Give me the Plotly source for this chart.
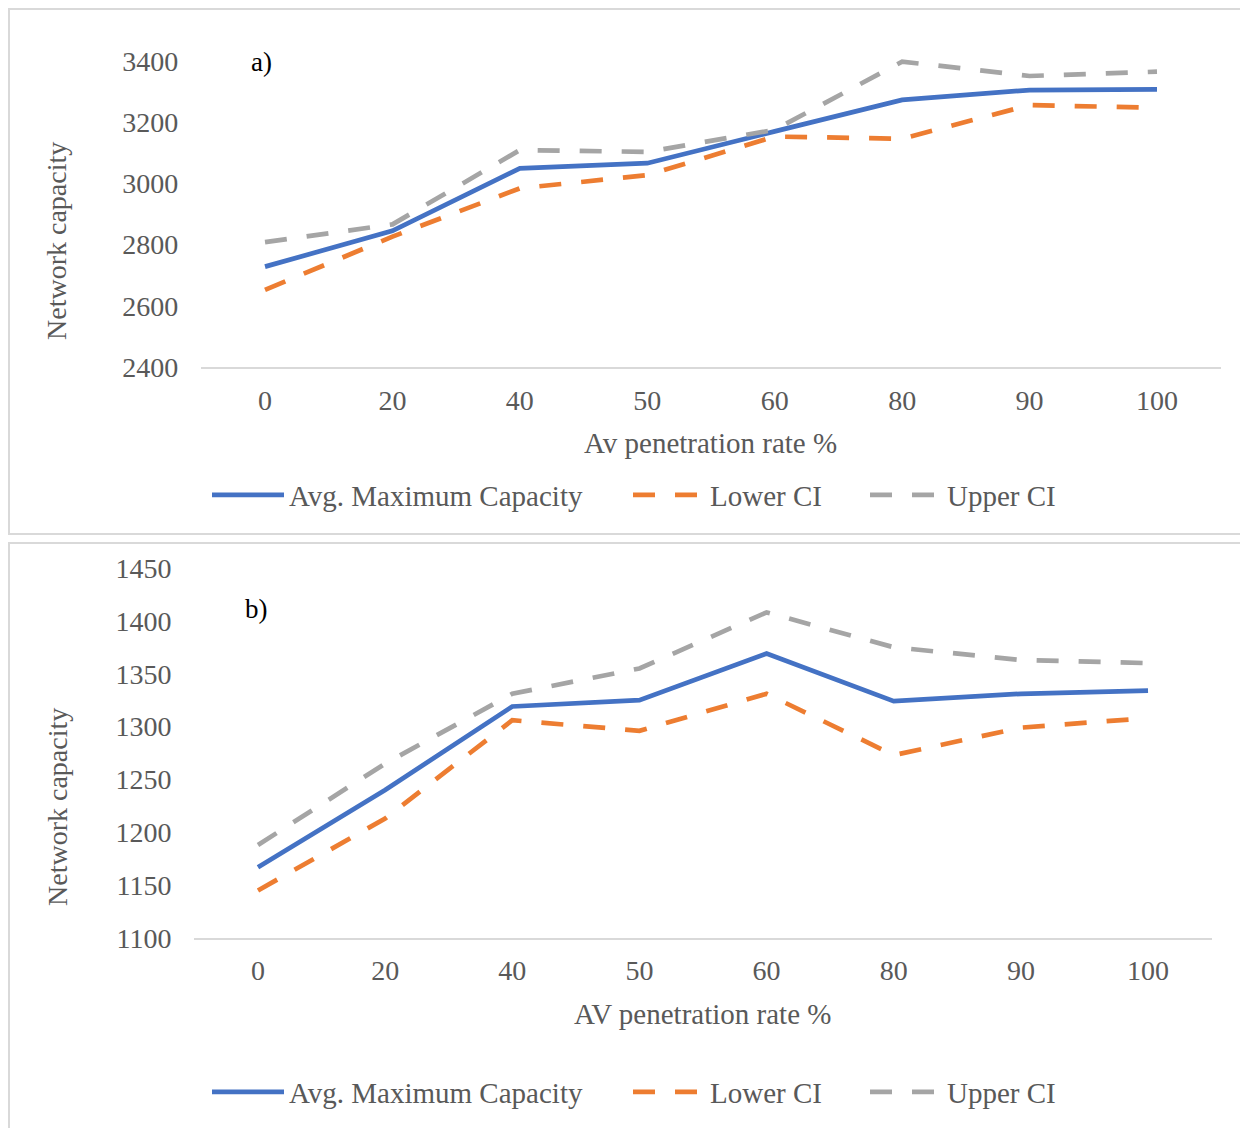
import plotly.graph_objects as go

OFF = 8  # page body margin
W, H = 1248 - OFF, 1128 - OFF

categories = ["0", "20", "40", "50", "60", "80", "90", "100"]

a_avg = [2728, 2845, 3049, 3066, 3170, 3273, 3305, 3307]
a_lower = [2652, 2826, 2984, 3027, 3153, 3146, 3256, 3247]
a_upper = [2808, 2866, 3109, 3103, 3175, 3398, 3351, 3365]

b_avg = [1167, 1240, 1319, 1325, 1369, 1324, 1331, 1334]
b_lower = [1145, 1213, 1306, 1296, 1331, 1273, 1299, 1308]
b_upper = [1188, 1265, 1331, 1355, 1408, 1375, 1363, 1360]

series_names = ["Avg. Maximum Capacity", "Lower CI", "Upper CI"]
colors = ["#4472C4", "#ED7D31", "#A5A5A5"]
dashes = ["solid", "22px,20px", "22px,20px"]

FONT = "Liberation Serif, Times New Roman, serif"
GREY = "#595959"


def px_x(p):
    return (p - OFF) / W


def px_y(p):
    return 1 - (p - OFF) / H


fig = go.Figure()

# legend start x (line start) for each entry, and legend centre y per panel
legend_x = [212, 633, 870]
legend_y = [495, 1092]

panels = [
    (a_avg, a_lower, a_upper, "x", "y"),
    (b_avg, b_lower, b_upper, "x2", "y2"),
]
legend_layout = {}
li = 1
for pi, (avg, lo, up, xa, ya) in enumerate(panels):
    for si, (name, vals, col, dsh) in enumerate(zip(series_names, [avg, lo, up], colors, dashes)):
        lname = "legend" if li == 1 else f"legend{li}"
        fig.add_trace(go.Scatter(
            x=categories, y=vals, name=name, mode="lines",
            line=dict(color=col, width=4.7, dash=dsh),
            xaxis=xa, yaxis=ya, legend=lname, hoverinfo="skip",
        ))
        legend_layout[lname] = dict(
            orientation="h", x=px_x(legend_x[si] - 5), y=px_y(legend_y[pi]),
            xanchor="left", yanchor="middle",
            font=dict(family=FONT, size=29, color=GREY),
            itemwidth=72, bgcolor="rgba(0,0,0,0)",
        )
        li += 1

# axis geometry (pixels in reference)
top_x0, top_x1 = 201.3, 1220.7
top_y_bottom = 367.0
top_px_per_unit = 306.0 / 1000.0
top_range = [2400, 3420]
top_y_top = top_y_bottom - (top_range[1] - top_range[0]) * top_px_per_unit

bot_x0, bot_x1 = 194.4, 1211.6
bot_y_top, bot_y_bottom = 568.0, 938.0
bot_range = [1100, 1450]

xaxis_common = dict(
    type="category", range=[-0.5, 7.5], showgrid=False, zeroline=False,
    showline=True, linecolor="#D9D9D9", linewidth=1.5, ticks="", automargin=False,
    tickfont=dict(family=FONT, size=28, color=GREY), ticklabelstandoff=8,
)
yaxis_common = dict(
    showgrid=False, zeroline=False, showline=False, ticks="", automargin=False,
    tickfont=dict(family=FONT, size=28, color=GREY), ticklabelstandoff=22,
)

fig.update_layout(
    width=W, height=H, margin=dict(l=0, r=0, t=0, b=0, autoexpand=False),
    paper_bgcolor="white", plot_bgcolor="white",
    font=dict(family=FONT, color=GREY),
    xaxis=dict(xaxis_common, domain=[px_x(top_x0), px_x(top_x1)], anchor="y"),
    yaxis=dict(yaxis_common, domain=[px_y(top_y_bottom), px_y(top_y_top)],
               range=top_range, tickvals=[2400, 2600, 2800, 3000, 3200, 3400], anchor="x"),
    xaxis2=dict(xaxis_common, domain=[px_x(bot_x0), px_x(bot_x1)], anchor="y2",
                ticklabelstandoff=7),
    yaxis2=dict(yaxis_common, domain=[px_y(bot_y_bottom), px_y(bot_y_top)],
                range=bot_range, dtick=50, tick0=1100, anchor="x2"),
    showlegend=True,
    **legend_layout,
)

annotations = [
    dict(text="a)", x=px_x(249), y=px_y(62), xanchor="left", yanchor="middle",
         font=dict(family=FONT, size=27, color="black")),
    dict(text="b)", x=px_x(243), y=px_y(609), xanchor="left", yanchor="middle",
         font=dict(family=FONT, size=27, color="black")),
    dict(text="Av penetration rate %", x=px_x(710), y=px_y(443), xanchor="center", yanchor="middle",
         font=dict(family=FONT, size=29, color=GREY)),
    dict(text="AV penetration rate %", x=px_x(702), y=px_y(1014), xanchor="center", yanchor="middle",
         font=dict(family=FONT, size=29, color=GREY)),
    dict(text="Network capacity", x=px_x(56), y=px_y(241), xanchor="center", yanchor="middle",
         textangle=-90, font=dict(family=FONT, size=28, color=GREY)),
    dict(text="Network capacity", x=px_x(57), y=px_y(807), xanchor="center", yanchor="middle",
         textangle=-90, font=dict(family=FONT, size=28, color=GREY)),
]
for a in annotations:
    a.update(xref="paper", yref="paper", showarrow=False)
fig.update_layout(annotations=annotations)

border_left = OFF + 1  # closest drawable position to the reference border
shapes = [
    dict(type="rect", xref="paper", yref="paper", x0=px_x(border_left), x1=px_x(1270),
         y0=px_y(534), y1=px_y(OFF + 1), line=dict(color="#D9D9D9", width=2),
         fillcolor="rgba(0,0,0,0)"),
    dict(type="rect", xref="paper", yref="paper", x0=px_x(border_left), x1=px_x(1270),
         y0=px_y(1150), y1=px_y(543), line=dict(color="#D9D9D9", width=2),
         fillcolor="rgba(0,0,0,0)"),
]
fig.update_layout(shapes=shapes)

fig.write_html("out.html")
